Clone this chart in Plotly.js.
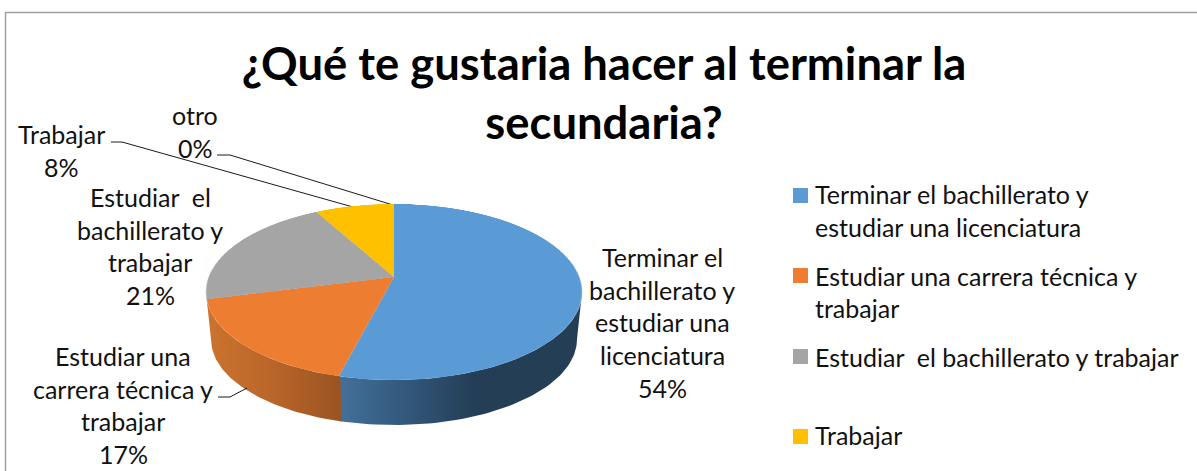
<!DOCTYPE html>
<html lang="es">
<head>
<meta charset="utf-8">
<script src="https://cdn.plot.ly/plotly-3.0.1.min.js"></script>
<style>
html,body{margin:0;padding:0;background:#fff;overflow:hidden;width:1197px;height:471px}
#chart{position:absolute;left:0;top:0;width:1197px;height:471px}
#face{position:absolute;left:194px;top:77px;width:400px;height:400px;transform-origin:200px 200px}
</style>
</head>
<body>
<div id="chart"></div>
<div id="face"></div>
<script>
// ---- data ----
const categories = ["Terminar el bachillerato y estudiar una licenciatura","Estudiar una carrera técnica y trabajar","Estudiar  el bachillerato y trabajar","Trabajar","otro"];
const values = [54,17,21,8,0];
const sliceColors = ["#5B9BD5","#ED7D31","#A5A5A5","#FFC000","#4472C4"];
const titleText = "¿Qué te gustaria hacer al terminar la<br>secundaria?";
const labelLines = [
  ["Terminar el","bachillerato y","estudiar una","licenciatura"],
  ["Estudiar una","carrera técnica y","trabajar"],
  ["Estudiar  el","bachillerato y","trabajar"],
  ["Trabajar"],
  ["otro"]
];
const legendLines = [
  ["Terminar el bachillerato y","estudiar una licenciatura"],
  ["Estudiar una carrera técnica y","trabajar"],
  ["Estudiar  el bachillerato y trabajar"],
  ["Trabajar"]
];

// ---- layout constants ----
const FONT = "Lato, Carlito, sans-serif";
const LABEL_SIZE = 25, LEGEND_SIZE = 25, TITLE_SIZE = 45.4;
const LINE = 32.7;
const labelAnchor = [[662,257],[123,356],[150,197],[61,134],[195,115]];
const legendX = 812.5, swatchX = 793, swatchSize = 15;
const legendTop = [194,275.5,356.5,434.5];
const swatchMid = [195.5,275.5,356.5,436.5];
const leaders = [
  [[111,142],[122,142],[353,207]],
  [[217,155],[230,155],[393,205]],
  [[218,397],[230,397],[247,388]]
];

// perspective of the pie's top face (screen = apex + projected unit circle)
const cx = 394, cy = 277, A = 185.3, B = 85.45, K = -0.1705, DEPTH = 47.8, BOTTOM_SCALE = 0.973;
function project(deg, scale, dy){
  const t = deg*Math.PI/180, u = Math.sin(t), v = -Math.cos(t), w = 1 + K*v;
  return [cx + scale*A*u/w, cy + dy + scale*B*v/w];
}
const total = values.reduce((a,b)=>a+b,0);
const startDeg = values.map((_,i)=>values.slice(0,i).reduce((a,b)=>a+b,0)/total*360);
const endDeg = startDeg.map((s,i)=>s+values[i]/total*360);
const tipRight = 180*Math.acos(K)/Math.PI, tipLeft = 360 - tipRight;

function wall(i, from, to, colorscale){
  const xs=[], ys=[], n=60;
  for(let j=0;j<=n;j++){const p=project(from+(to-from)*j/n,1,0);xs.push(p[0]);ys.push(p[1]);}
  for(let j=n;j>=0;j--){const p=project(from+(to-from)*j/n,BOTTOM_SCALE,DEPTH);xs.push(p[0]);ys.push(p[1]);}
  return {type:"scatter",x:xs,y:ys,mode:"lines",line:{width:0},fill:"toself",
    fillgradient:{type:"horizontal",colorscale:colorscale},
    hoverinfo:"skip",showlegend:false,name:categories[i]};
}
const traces = [
  wall(0, tipRight, endDeg[0], [[0,"#44709B"],[0.3,"#315679"],[0.55,"#243E56"],[1,"#243E56"]]),
  wall(1, endDeg[0]-0.4, tipLeft, [[0,"#CC742E"],[0.5,"#B9652A"],[1,"#9A5421"]])
];

const annotations = [], shapes = [];
labelLines.forEach((lines,i)=>{
  const all = lines.concat([values[i]+"%"]);
  all.forEach((t,j)=>annotations.push({xref:"x",yref:"y",x:labelAnchor[i][0],y:labelAnchor[i][1]+j*LINE,text:t,
    showarrow:false,xanchor:"center",yanchor:"middle",font:{family:FONT,size:LABEL_SIZE,color:"#111"}}));
});
legendLines.forEach((lines,i)=>{
  lines.forEach((t,j)=>annotations.push({xref:"x",yref:"y",x:legendX,y:legendTop[i]+j*LINE,text:t,
    showarrow:false,xanchor:"left",yanchor:"middle",font:{family:FONT,size:LEGEND_SIZE,color:"#111"}}));
  shapes.push({type:"rect",xref:"x",yref:"y",x0:swatchX,x1:swatchX+swatchSize,y0:swatchMid[i]-7.5,y1:swatchMid[i]+7.5,
    fillcolor:sliceColors[i],line:{width:0}});
});
leaders.forEach(l=>shapes.push({type:"path",xref:"x",yref:"y",
  path:"M"+l.map(p=>p[0]+" "+p[1]).join(" L"),line:{color:"#1a1a1a",width:1}}));
shapes.push({type:"path",xref:"x",yref:"y",path:"M5.5 471 L5.5 12.5 L1197 12.5",line:{color:"#A0A0A0",width:1.5}});

Plotly.newPlot("chart",traces,{
  width:1197,height:471,margin:{l:0,r:0,t:0,b:0},
  paper_bgcolor:"#fff",plot_bgcolor:"#fff",showlegend:false,
  title:{text:titleText,x:604/1197,xanchor:"center",y:1-79.5/471,yref:"container",yanchor:"middle",pad:{t:0,b:0},
    font:{family:FONT,size:TITLE_SIZE,color:"#000",weight:700}},
  xaxis:{range:[0,1197],visible:false,fixedrange:true},
  yaxis:{range:[471,0],visible:false,fixedrange:true},
  annotations:annotations,shapes:shapes
},{displayModeBar:false});

// top face: a real pie, tilted with a CSS perspective matrix
const R = 200;
document.getElementById("face").style.transform =
  "matrix3d("+[A/R,0,0,0, 0,B/R,0,K/R, 0,0,1,0, 0,0,0,1].join(",")+")";
Plotly.newPlot("face",[{type:"pie",values:values,labels:categories,sort:false,direction:"clockwise",rotation:0,
  marker:{colors:sliceColors,line:{width:0}},textinfo:"none",showlegend:false,hoverinfo:"label+percent"}],{
  width:400,height:400,margin:{l:0,r:0,t:0,b:0},paper_bgcolor:"rgba(0,0,0,0)",plot_bgcolor:"rgba(0,0,0,0)",showlegend:false
},{displayModeBar:false});
</script>
</body>
</html>
